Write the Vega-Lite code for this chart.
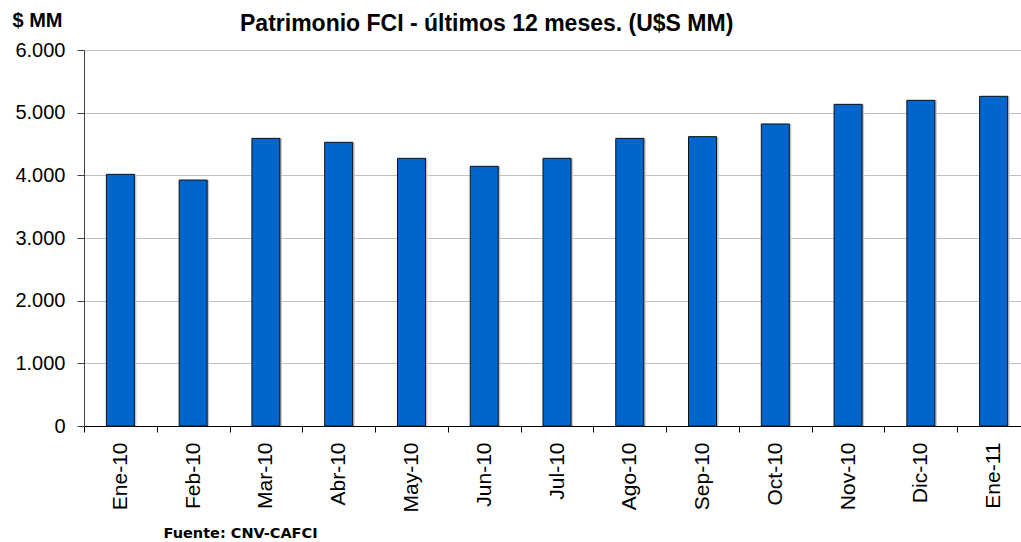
{
  "$schema": "https://vega.github.io/schema/vega-lite/v6.json",
  "autosize": "none",
  "width": 937,
  "height": 376,
  "padding": {"left": 84, "top": 50, "right": 0, "bottom": 116},
  "background": "white",
  "title": {
    "text": "Patrimonio FCI - últimos 12 meses. (U$S MM)",
    "anchor": "start",
    "frame": "group",
    "dx": 156,
    "offset": 0,
    "dy": 43.5,
    "baseline": "alphabetic",
    "font": "Liberation Sans",
    "fontSize": 23,
    "fontWeight": "bold",
    "color": "#000000"
  },
  "data": {
    "values": [
      {"mes": "Ene-10", "valor": 4016},
      {"mes": "Feb-10", "valor": 3925},
      {"mes": "Mar-10", "valor": 4590},
      {"mes": "Abr-10", "valor": 4527},
      {"mes": "May-10", "valor": 4271},
      {"mes": "Jun-10", "valor": 4144},
      {"mes": "Jul-10", "valor": 4272},
      {"mes": "Ago-10", "valor": 4590},
      {"mes": "Sep-10", "valor": 4617},
      {"mes": "Oct-10", "valor": 4820},
      {"mes": "Nov-10", "valor": 5133},
      {"mes": "Dic-10", "valor": 5197},
      {"mes": "Ene-11", "valor": 5261}
    ]
  },
  "encoding": {
    "x": {
      "field": "mes",
      "type": "nominal",
      "sort": null,
      "scale": {"range": [0, 946], "paddingInner": 0.615, "paddingOuter": 0.3075},
      "axis": {
        "title": "Fuente: CNV-CAFCI",
        "titleX": 79,
        "titleY": 107,
        "titleAlign": "left",
        "titleBaseline": "middle",
        "titleAnchor": null,
        "titleFont": "DejaVu Sans",
        "titleFontSize": 14.5,
        "titleFontWeight": "bold",
        "titleColor": "#000000",
        "labelAngle": -90,
        "labelAlign": "right",
        "labelBaseline": "middle",
        "labelFont": "Liberation Sans",
        "labelFontSize": 21,
        "labelColor": "#000000",
        "labelPadding": 10,
        "tickSize": 6,
        "tickOffset": -36.4,
        "labelOffset": 36.4,
        "tickColor": "#000000",
        "domainColor": "#000000",
        "grid": false
      }
    },
    "y": {
      "field": "valor",
      "type": "quantitative",
      "scale": {"domain": [0, 6000], "nice": false},
      "axis": {
        "values": [0, 1000, 2000, 3000, 4000, 5000, 6000],
        "labelExpr": "replace(format(datum.value, ','), ',', '.')",
        "title": "$ MM",
        "titleAngle": 0,
        "titleX": -72,
        "titleY": -23.5,
        "titleAlign": "left",
        "titleBaseline": "alphabetic",
        "titleFont": "Liberation Sans",
        "titleFontSize": 20,
        "titleFontWeight": "bold",
        "titleColor": "#000000",
        "labelFont": "Liberation Sans",
        "labelFontSize": 20,
        "labelColor": "#000000",
        "labelPadding": 12,
        "tickSize": 7,
        "tickColor": "#404040",
        "domainColor": "#404040",
        "grid": true,
        "gridColor": "#c0c0c0",
        "gridWidth": 1
      }
    }
  },
  "layer": [
    {
      "mark": {"type": "bar", "color": "#c8c8c8", "xOffset": 2}
    },
    {
      "mark": {"type": "bar", "fill": "#0066cc", "stroke": "#111111", "strokeWidth": 1}
    }
  ],
  "config": {"view": {"stroke": null}}
}
